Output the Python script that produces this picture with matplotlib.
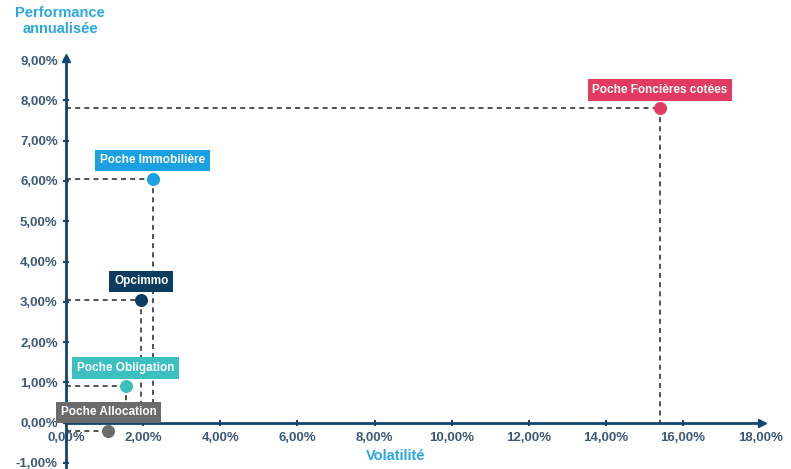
import matplotlib.pyplot as plt
from matplotlib.ticker import FuncFormatter

plt.rcParams['font.family'] = ['Liberation Sans', 'DejaVu Sans']

names = ['Poche Foncières cotées', 'Poche Immobilière', 'Opcimmo',
         'Poche Obligation', 'Poche Allocation']
volatility = [15.4, 2.25, 1.95, 1.55, 1.1]
performance = [7.8, 6.05, 3.05, 0.9, -0.2]
colors = ['#e23a61', '#1ba1e2', '#0d3c61', '#3bbfbf', '#6b6b6b']

axis_col = '#0f4570'
tick_col = '#3c5a78'

fig = plt.figure(figsize=(7.91, 4.69), dpi=100)
ax = fig.add_axes([66/791, 2/469, 700/791, 411/469])
ax.set_xlim(0, 18.15)
ax.set_ylim(-1.1, 9.1)

for s in ['top', 'right']:
    ax.spines[s].set_visible(False)
ax.spines['left'].set_position(('data', 0))
ax.spines['bottom'].set_position(('data', 0))
for s in ['left', 'bottom']:
    ax.spines[s].set_color(axis_col)
    ax.spines[s].set_linewidth(2)
ax.spines['left'].set_bounds(-1.1, 9.0)
ax.spines['bottom'].set_bounds(0, 18.0)
ax.plot(18.05, 0, marker='>', color=axis_col, markersize=6, clip_on=False)
ax.plot(0, 9.05, marker='^', color=axis_col, markersize=6, clip_on=False)

ax.set_xticks(range(0, 19, 2))
ax.set_yticks(range(-1, 10))
fmt = FuncFormatter(lambda v, p: f'{v:.2f}%'.replace('.', ','))
ax.xaxis.set_major_formatter(fmt)
ax.yaxis.set_major_formatter(fmt)
ax.tick_params(direction='inout', length=5, width=1.5, color=axis_col,
               labelcolor=tick_col, labelsize=9.5)
for lab in ax.get_xticklabels() + ax.get_yticklabels():
    lab.set_fontweight('bold')
ax.tick_params(axis='x', pad=4)

for n, x, y, c in zip(names, volatility, performance, colors):
    ax.plot([0, x], [y, y], ls=(0, (3, 2.5)), color='#333333', lw=1.2, zorder=2)
    ax.plot([x, x], [y, 0], ls=(0, (3, 2.5)), color='#333333', lw=1.2, zorder=2)
    ax.scatter([x], [y], s=70, color=c, zorder=4)
    ax.annotate(n, (x, y), xytext=(0, 9), textcoords='offset points',
                ha='center', va='bottom', color='white', fontsize=8.5, fontweight='bold',
                bbox=dict(boxstyle='square,pad=0.4', fc=c, ec='none'), zorder=5)

fig.text(60/791, 1 - 21/469, 'Performance\nannualisée', ha='center', va='center',
         color='#29a8e0', fontsize=10.5, fontweight='bold', linespacing=1.15)
fig.text(396/791, 1 - 456/469, 'Volatilité', ha='center', va='center',
         color='#29a8e0', fontsize=10.5, fontweight='bold')

fig.savefig('out.png', dpi=100)
